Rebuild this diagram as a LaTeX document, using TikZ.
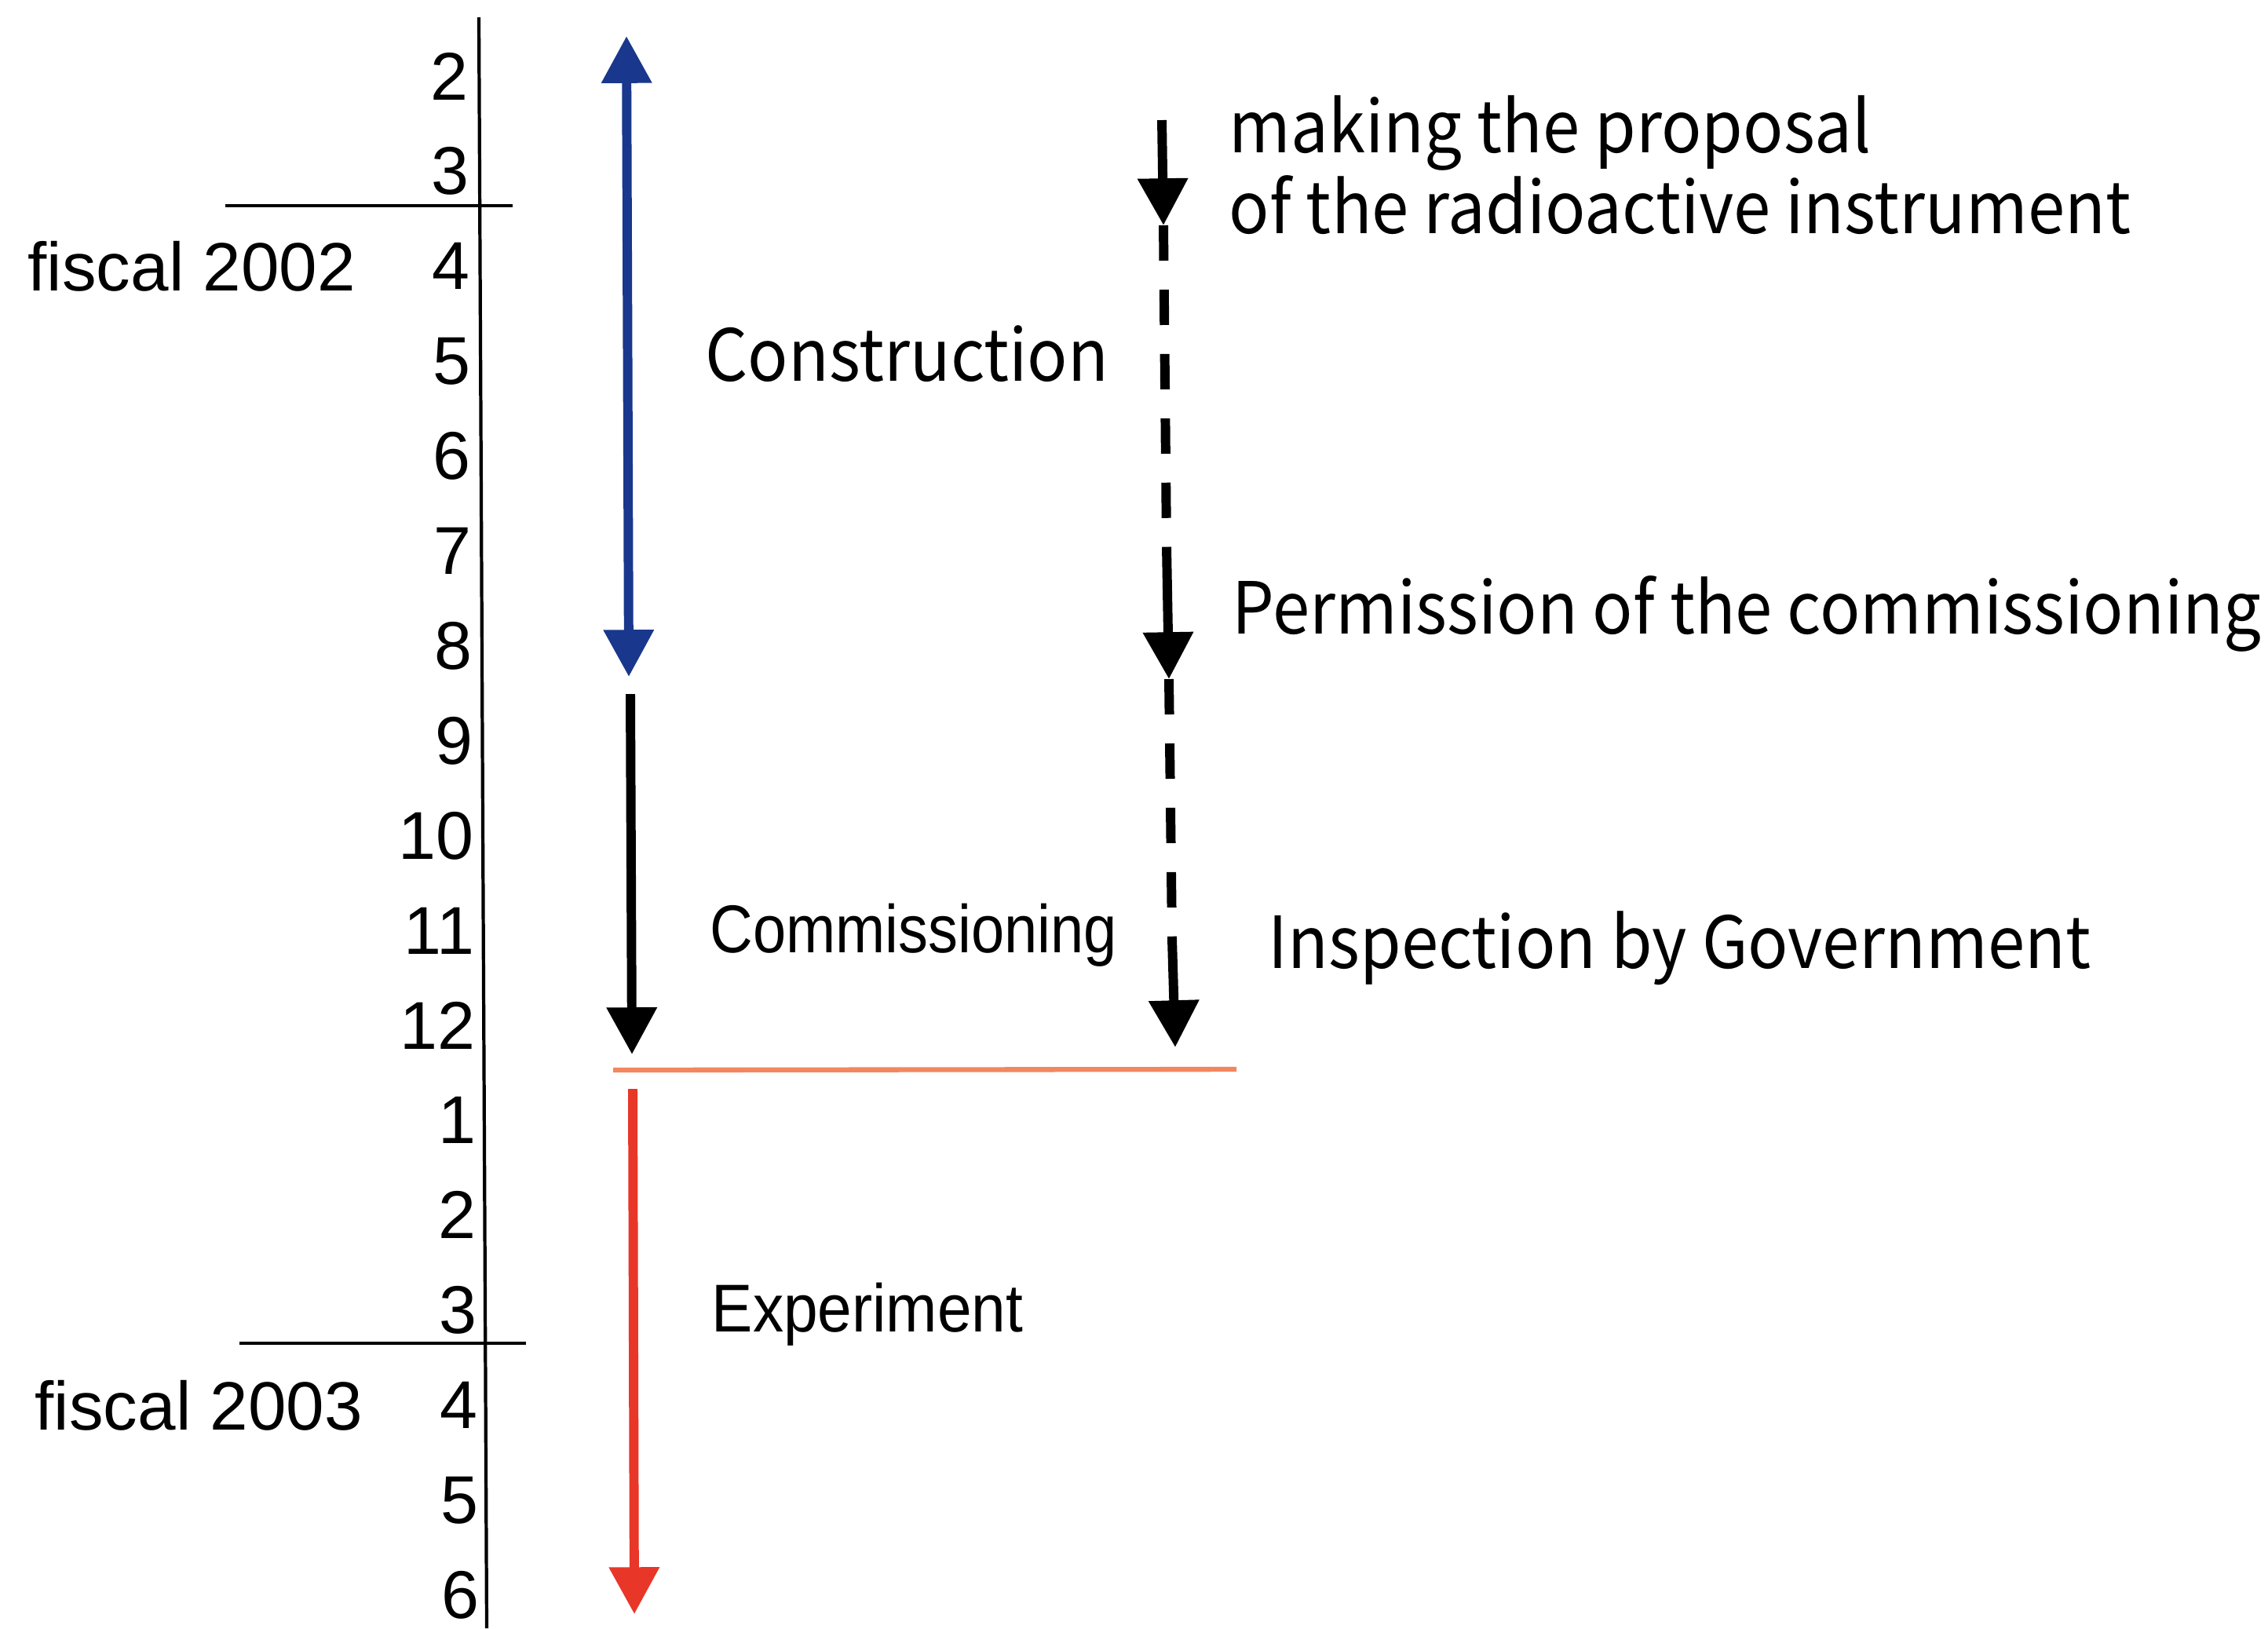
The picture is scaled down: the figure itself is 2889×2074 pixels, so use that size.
\documentclass[tikz,border=0pt]{standalone}
\usepackage{fontspec}
\setmainfont{Liberation Sans}
\newfontfamily\narrowsans[FakeStretch=0.88]{Liberation Sans}
\newfontfamily\expsans[FakeStretch=0.91]{Liberation Sans}
\newfontfamily\gothic[FakeStretch=0.93]{Noto Sans CJK JP}
\usetikzlibrary{arrows.meta}
\definecolor{navyarrow}{RGB}{25,55,140}
\definecolor{redarrow}{RGB}{232,55,40}
\definecolor{salmonline}{RGB}{242,135,95}
\tikzset{
  lbl/.style={inner sep=0pt, anchor=base west},
  num/.style={inner sep=0pt, anchor=base east, font=\fontsize{24.5}{28}\selectfont},
  yearlbl/.style={lbl, font=\fontsize{24.8}{28}\selectfont},
  phase/.style={lbl, font=\narrowsans\fontsize{24.5}{28}\selectfont},
  note/.style={lbl, font=\gothic\fontsize{26}{30}\selectfont},
  fat/.style={line width=3.4pt},
  thin/.style={line width=1.2pt},
  tipend/.style={-{Triangle[length=17pt,width=17.5pt]}},
  tipboth/.style={{Triangle[length=17pt,width=17.5pt]}-{Triangle[length=17pt,width=17.5pt]}},
  dashline/.style={fat, dash pattern=on 12.8pt off 10.5pt}
}
\begin{document}
\begin{tikzpicture}[x=0.01cm,y=-0.01cm]
\useasboundingbox (0,0) rectangle (2889,2074);
\fill[white] (0,0) rectangle (2889,2074);

% axis
\coordinate (axtop) at (610,22);
\coordinate (axbot) at (620,2074);
\draw[thin] (axtop) -- (axbot);
\coordinate (fyA1) at (287,262);
\coordinate (fyA2) at (653,262);
\coordinate (fyB1) at (305,1711);
\coordinate (fyB2) at (670,1711);
\draw[thin] (fyA1) -- (fyA2);
\draw[thin] (fyB1) -- (fyB2);

% month numbers
\foreach \lab [count=\k from 0] in {2,3,4,5,6,7,8,9,10,11,12,1,2,3,4,5,6}{
  \node[num] (m\k) at ({597+14*\k/16},{96+120.9*\k+31}) {\lab};
}
\node[yearlbl] (fy2002) at (35,370) {fiscal 2002};
\node[yearlbl] (fy2003) at (44,1821) {fiscal 2003};

% construction arrow
\coordinate (conA) at (798,46);
\coordinate (conB) at (801,862);
\draw[fat, navyarrow, tipboth] (conA) -- (conB);
\node[note] (construction) at (898,485) {Construction};

% commissioning arrow
\coordinate (comA) at (803,884);
\coordinate (comB) at (805,1343);
\draw[fat, tipend] (comA) -- (comB);
\node[phase] (commissioning) at (904,1213) {Commissioning};

% separator
\coordinate (sepA) at (781,1363);
\coordinate (sepB) at (1575,1362);
\draw[line width=1.8pt, salmonline] (sepA) -- (sepB);

% experiment arrow
\coordinate (expA) at (806,1387);
\coordinate (expB) at (808,2056);
\draw[fat, redarrow, tipend] (expA) -- (expB);
\node[lbl, font=\expsans\fontsize{24.5}{28}\selectfont] (experiment) at (906,1696) {Experiment};

% licensing track
\coordinate (d0) at (1480,153);
\coordinate (d1) at (1482,287);
\coordinate (d1e) at (1486,697);
\coordinate (d2) at (1489,865);
\coordinate (d2e) at (1493,1196);
\coordinate (d3) at (1497,1334);
\draw[fat, tipend] (d0) -- (d1);
\draw[dashline] (d1) -- (d1e);
\draw[fat, tipend] (d1e) -- (d2);
\draw[dashline] (d2) -- (d2e);
\draw[fat, tipend] (d2e) -- (d3);

\node[note] (proposal1) at (1565,194) {making the proposal};
\node[note] (proposal2) at (1565,297) {of the radioactive instrument};
\node[note] (permission) at (1569,807) {Permission of the commissioning};
\node[note] (inspection) at (1615,1233) {Inspection by Government};
\end{tikzpicture}
\end{document}
